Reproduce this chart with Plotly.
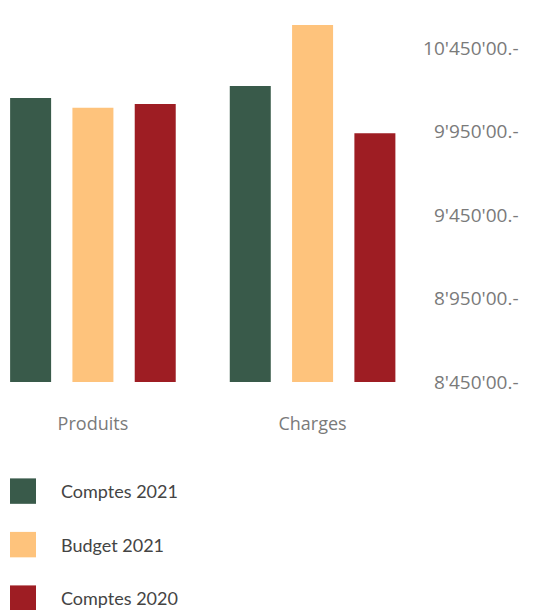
import plotly.graph_objects as go

categories = ["Produits", "Charges"]
series_names = ["Comptes 2021", "Budget 2021", "Comptes 2020"]
comptes_2021 = [10150000, 10222000]
budget_2021 = [10093000, 10588000]
comptes_2020 = [10115000, 9939000]
series_values = [comptes_2021, budget_2021, comptes_2020]
colors = ["#395a4a", "#fec37c", "#9e1d23"]
tick_vals = [8450000, 8950000, 9450000, 9950000, 10450000]
tick_text = ["8'450'00.-", "8'950'00.-", "9'450'00.-", "9'950'00.-", "10'450'00.-"]

W, H = 534, 610
k = 1.022
fig = go.Figure()
for name, vals, col in zip(series_names, series_values, colors):
    fig.add_trace(go.Bar(x=categories, y=vals, name=name, marker=dict(color=col, line=dict(width=0)),
                         showlegend=False))

# legend drawn as squares + labels
for i, (name, col) in enumerate(zip(series_names, colors)):
    yc = (491 + i * 53.5) * k
    fig.add_shape(type="rect", xref="paper", yref="paper",
                  x0=10 / W, x1=36 / W, y0=1 - (yc - 13) / H, y1=1 - (yc + 13) / H,
                  fillcolor=col, line=dict(width=0))
    fig.add_annotation(text=name, xref="paper", yref="paper", x=59 / W, y=1 - yc / H,
                       xanchor="left", yanchor="middle", showarrow=False,
                       font=dict(family="Lato", size=18, color="#444444"))

fig.update_layout(
    width=W, height=H,
    margin=dict(l=0, r=0, t=0, b=0),
    paper_bgcolor="white", plot_bgcolor="white",
    barmode="group", bargap=0.149, bargroupgap=0.342,
    xaxis=dict(domain=[0, 1], range=[-0.423, 2.008], showgrid=False, zeroline=False,
               showline=False, ticks="", ticklabelstandoff=29,
               tickfont=dict(family="Open Sans", size=18, color="#7a7a7a")),
    yaxis=dict(domain=[1 - 382 * k / H, 1], range=[8450000, 8450000 + 382 * 5988],
               anchor="free", position=0.971, side="left",
               tickvals=tick_vals, ticktext=tick_text, showgrid=False, zeroline=False,
               showline=False, ticks="",
               tickfont=dict(family="Open Sans", size=19, color="#7a7a7a")),
)
fig.write_html("out.html")
